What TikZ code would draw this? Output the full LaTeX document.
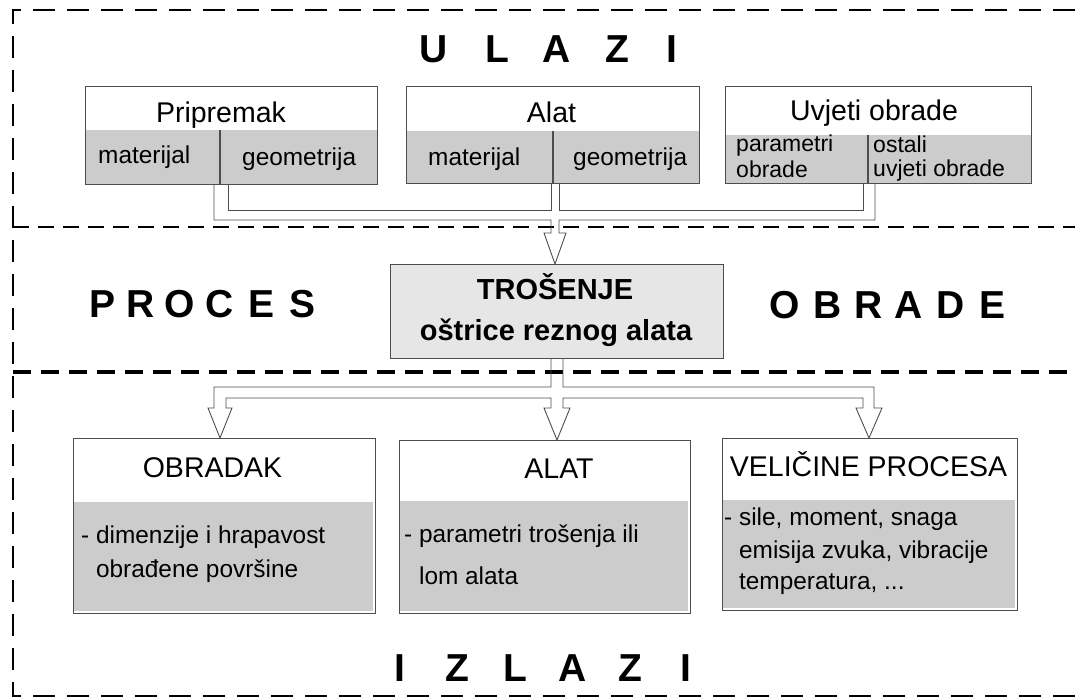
\documentclass[tikz,border=0pt]{standalone}
\usepackage{fontspec}
\setmainfont{Liberation Sans}
\usetikzlibrary{calc}
\definecolor{subgray}{HTML}{CCCCCC}
\definecolor{centergray}{HTML}{E6E6E6}
\definecolor{framegray}{HTML}{4D4D4D}
\begin{document}
\begin{tikzpicture}[x=1pt,y=-1pt,
  frame/.style={draw=framegray, line width=1.2pt, inner sep=0pt, anchor=north west},
  conn/.style={draw=framegray, line width=0.9pt, line join=miter},
  border/.style={line width=2.8pt, dash pattern=on 22pt off 12pt},
  sepa/.style={line width=2.4pt, dash pattern=on 16pt off 9pt},
  sepb/.style={line width=3.4pt, dash pattern=on 18pt off 10pt},
  hdr/.style={font=\fontsize{28.5}{34}\selectfont, inner sep=0pt, anchor=base},
  sub/.style={font=\fontsize{24.4}{29}\selectfont, inner sep=0pt, anchor=base west},
  subs/.style={font=\fontsize{23}{26}\selectfont, inner sep=0pt, anchor=base west},
  big/.style={font=\fontsize{39}{46}\bfseries\selectfont, inner sep=0pt, anchor=base},
  ctr/.style={font=\fontsize{29}{34}\bfseries\selectfont, inner sep=0pt, anchor=base}]
\useasboundingbox (0,0) rectangle (1075,698);

% dashed frame and separators
\draw[border] (1075,10) -- (13,10) -- (13,696) -- (1075,696);
\draw[sepa] (13,227) -- (1075,227);
\draw[sepb] (13,372) -- (1075,372);

% titles
\node[big] (u1) at (434,63) {U};
\node[big] (u2) at (497,63) {L};
\node[big] (u3) at (557,63) {A};
\node[big] (u4) at (617,63) {Z};
\node[big] (u5) at (672,63) {I};
\node[big] (p1) at (103,317) {P};
\node[big] (p2) at (141,317) {R};
\node[big] (p3) at (180,317) {O};
\node[big] (p4) at (220,317) {C};
\node[big] (p5) at (262,317) {E};
\node[big] (p6) at (303,317) {S};
\node[big] (b1) at (785,318) {O};
\node[big] (b2) at (828,318) {B};
\node[big] (b3) at (869,318) {R};
\node[big] (b4) at (909,318) {A};
\node[big] (b5) at (951,318) {D};
\node[big] (b6) at (992,318) {E};
\node[big] (i1) at (400,681) {I};
\node[big] (i2) at (457,681) {Z};
\node[big] (i3) at (515,681) {L};
\node[big] (i4) at (573,681) {A};
\node[big] (i5) at (630,681) {Z};
\node[big] (i6) at (686,681) {I};

% input boxes
\fill[subgray] (85,130) rectangle (377,184);
\fill[subgray] (406,131) rectangle (699,183);
\fill[subgray] (725,135) rectangle (1031,183);
\node[frame, minimum width=292pt, minimum height=98pt] (prip) at (85,86) {};
\node[frame, minimum width=293pt, minimum height=97pt] (alat) at (406,86) {};
\node[frame, minimum width=306pt, minimum height=97pt] (uvj) at (725,86) {};
\draw[framegray, line width=1.2pt] (220,130) -- (220,184);
\draw[framegray, line width=1.2pt] (553,131) -- (553,183);
\draw[framegray, line width=1.2pt] (868,135) -- (868,183);

\node[hdr] (priphdr) at (221,123) {Pripremak};
\node[sub] (pripm) at (98,163) {materijal};
\node[sub] (pripg) at (242,165) {geometrija};
\node[hdr] (alathdr) at (551.5,122) {Alat};
\node[sub] (alatm) at (428,165) {materijal};
\node[sub] (alatg) at (573,165) {geometrija};
\node[hdr] (uvjhdr) at (874,121) {Uvjeti obrade};
\node[subs] (uvjp1) at (736,151) {parametri};
\node[subs] (uvjp2) at (736,177) {obrade};
\node[subs] (uvjo1) at (873,152) {ostali};
\node[subs] (uvjo2) at (873,176) {uvjeti obrade};

% central box
\node[frame, fill=centergray, minimum width=333pt, minimum height=94pt] (tros) at (390,264) {};
\node[ctr] (trost1) at (555,299) {TROŠENJE};
\node[ctr] (trost2) at (556,340) {oštrice reznog alata};

% output boxes
\fill[subgray] (73,502) rectangle (372.5,611);
\fill[subgray] (399,501) rectangle (687.5,611);
\fill[subgray] (722,500) rectangle (1014.5,608);
\node[frame, minimum width=302pt, minimum height=175pt] (obr) at (73,438) {};
\node[frame, minimum width=291pt, minimum height=173pt] (alato) at (399,440) {};
\node[frame, minimum width=295pt, minimum height=172pt] (vel) at (722,438) {};

\node[hdr] (obrhdr) at (212.5,477) {OBRADAK};
\node[sub] (obrt1) at (81,543) {- dimenzije i hrapavost};
\node[sub] (obrt2) at (81,577) {\hphantom{- }obrađene površine};
\node[hdr] (alatohdr) at (559,478) {ALAT};
\node[sub] (alatot1) at (404,542) {- parametri trošenja ili};
\node[sub] (alatot2) at (404,584) {\hphantom{- }lom alata};
\node[hdr] (velhdr) at (868.5,476) {VELIČINE PROCESA};
\node[sub] (velt1) at (724,525) {- sile, moment, snaga};
\node[sub] (velt2) at (724,558) {\hphantom{- }emisija zvuka, vibracije};
\node[sub] (velt3) at (724,589) {\hphantom{- }temperatura, ...};

% input connectors
\coordinate (in1) at ($(prip.south west)+(129,0)$);
\coordinate (in2) at ($(prip.south west)+(143,0)$);
\coordinate (in3) at ($(alat.south west)+(145,0)$);
\coordinate (in4) at ($(alat.south west)+(153,0)$);
\coordinate (in5) at ($(uvj.south west)+(138,0)$);
\coordinate (in6) at ($(uvj.south west)+(150,0)$);
\coordinate (tipin) at ($(tros.north west)+(165,0)$);
\draw[conn] (in1) -- (214,220) -- (551,220) -- (551,233) -- (544,233) -- (tipin)
  -- (566,233) -- (559,233) -- (559,220) -- (875,220) -- (in6);
\draw[conn] (in2) -- (228,210) -- (551,210) -- (in3);
\draw[conn] (in4) -- (559,210) -- (863,210) -- (in5);

% output connectors
\coordinate (out1) at ($(tros.south west)+(161,0)$);
\coordinate (out2) at ($(tros.south west)+(173,0)$);
\coordinate (tip1) at ($(obr.north west)+(147,0)$);
\coordinate (tip2) at ($(alato.north west)+(158,0)$);
\coordinate (tip3) at ($(vel.north west)+(147,0)$);
\draw[conn] (out1) -- (551,387) -- (214,387) -- (214,408) -- (208,408) -- (tip1)
  -- (232,408) -- (226,408) -- (226,398) -- (551,398) -- (551,408) -- (544,408)
  -- (tip2) -- (570,408) -- (563,408) -- (563,398) -- (863,398) -- (863,408)
  -- (856,408) -- (tip3) -- (882,408) -- (874,408) -- (874,387) -- (563,387) -- (out2);
\end{tikzpicture}
\end{document}
